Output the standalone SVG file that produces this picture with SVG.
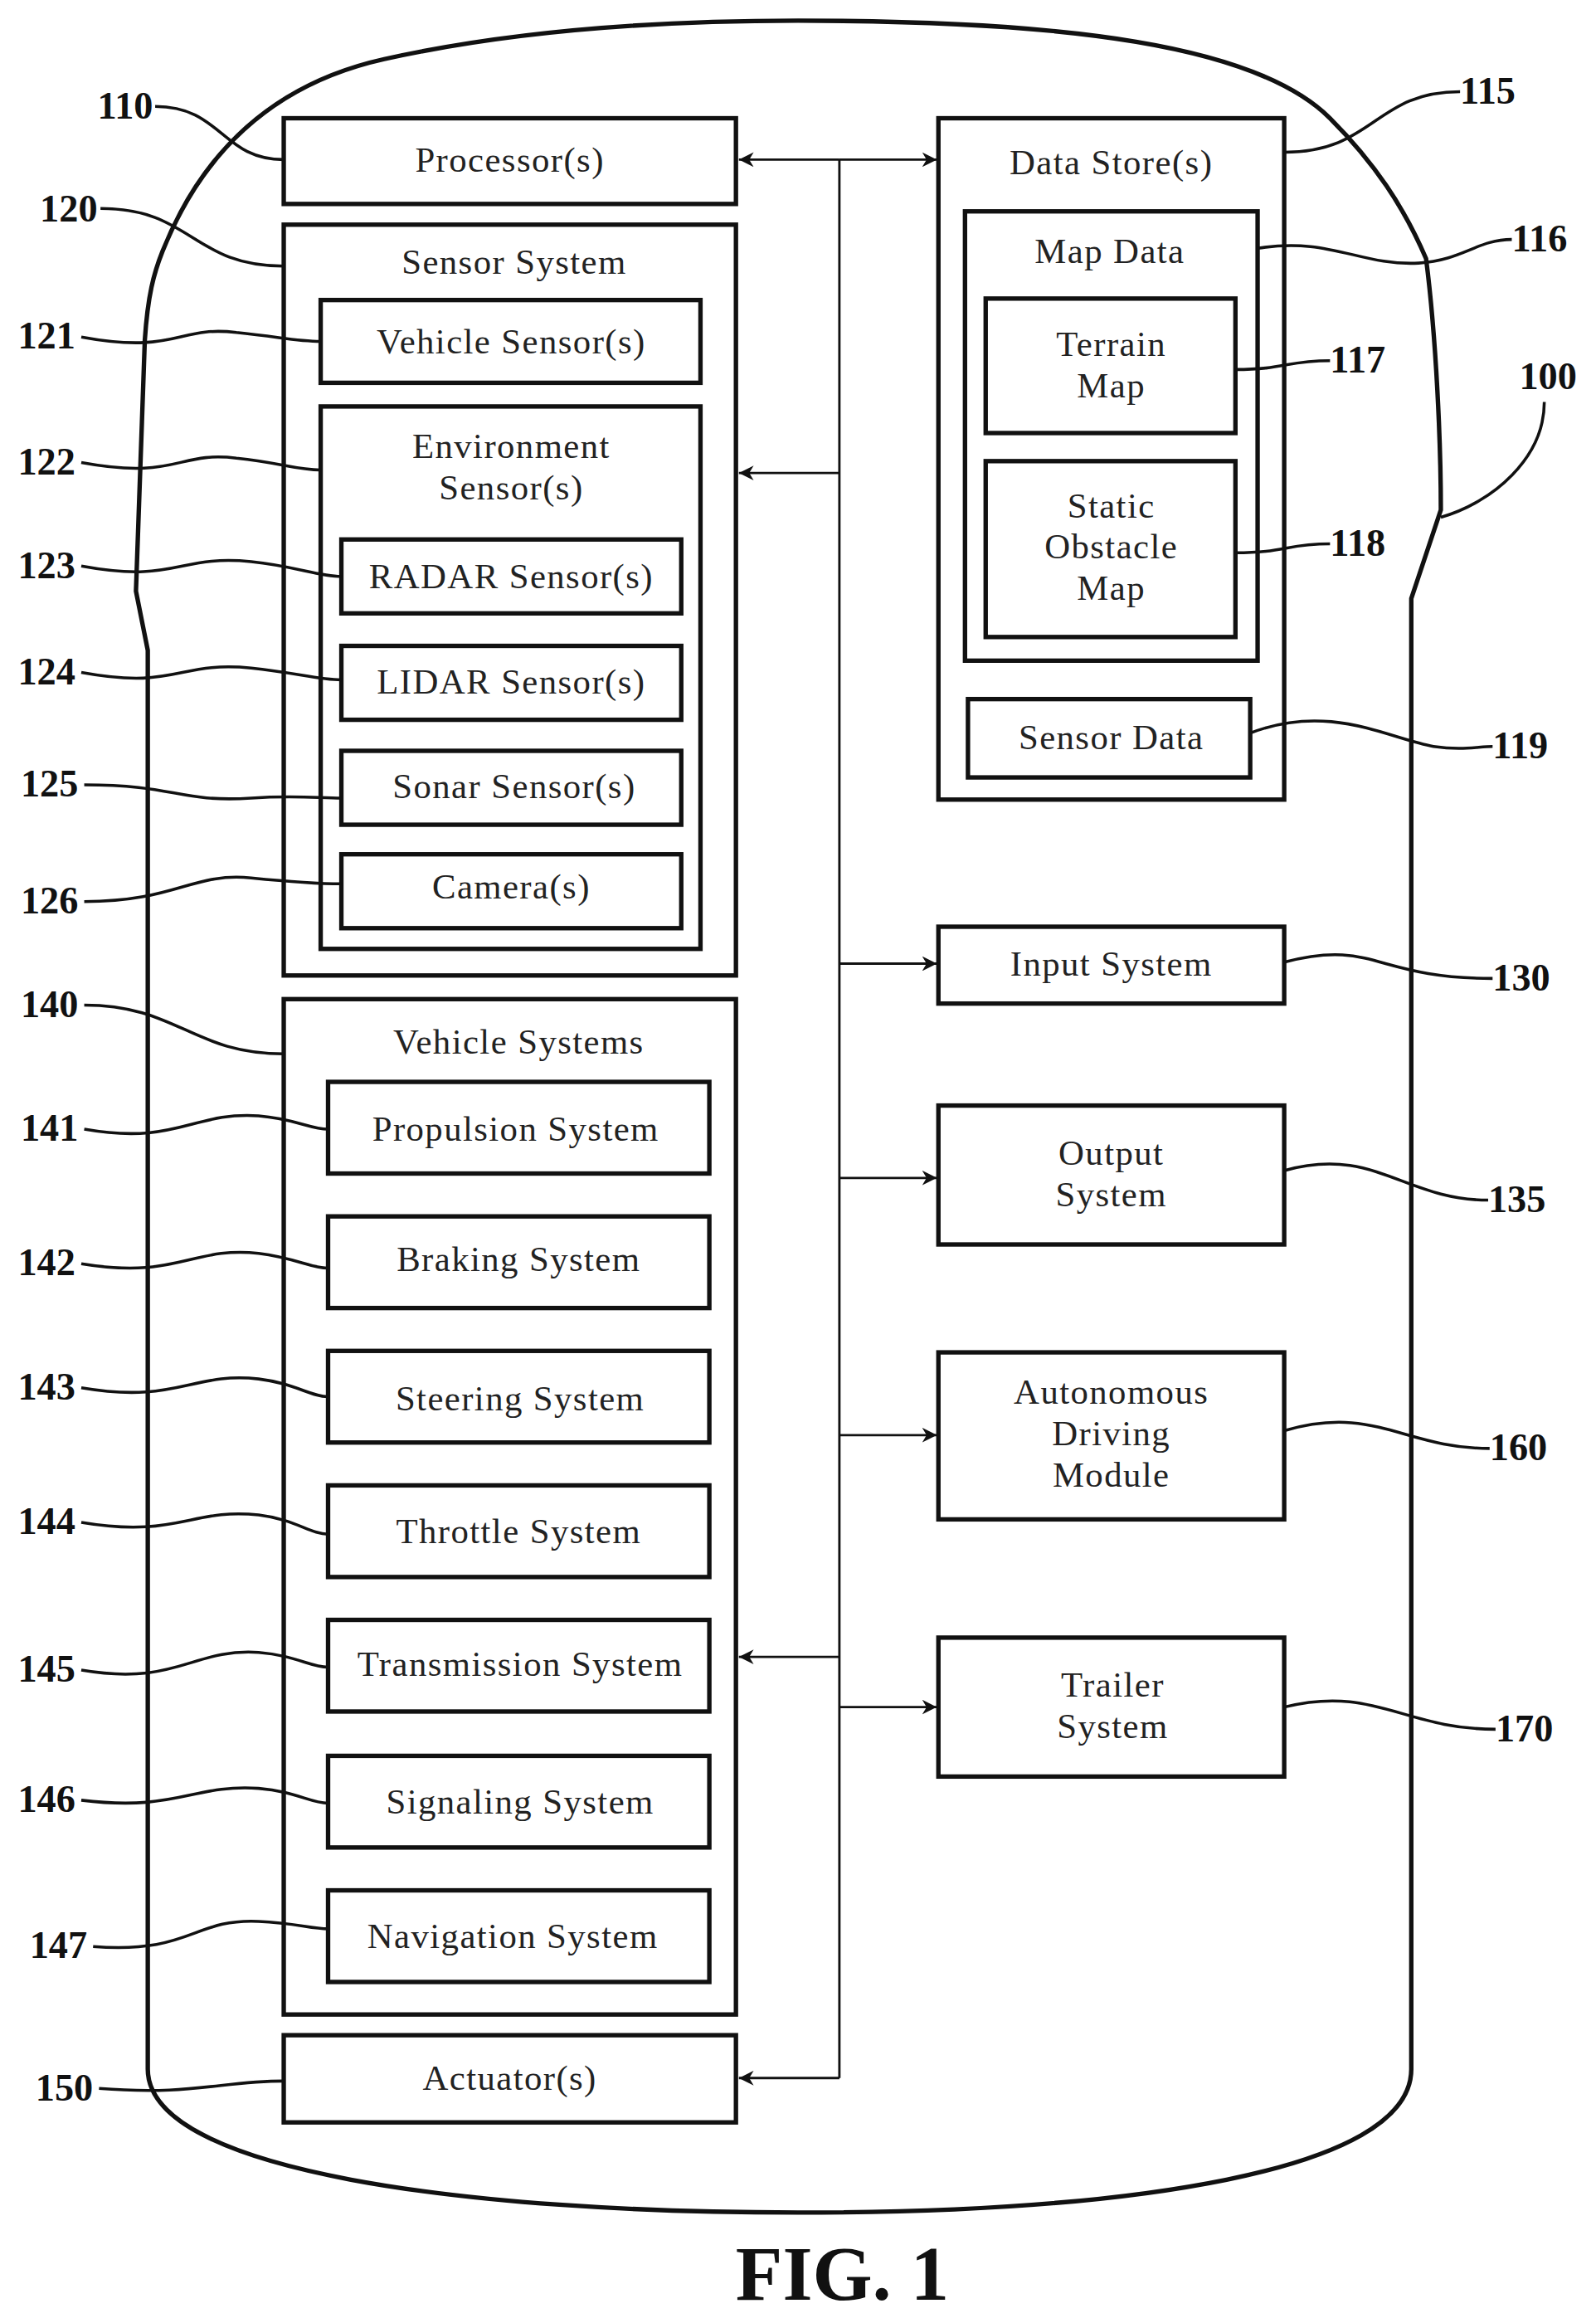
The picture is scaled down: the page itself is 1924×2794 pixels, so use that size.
<svg xmlns="http://www.w3.org/2000/svg" width="1924" height="2794" viewBox="0 0 1924 2794">
<style>
.b{fill:#fff;stroke:#111;stroke-width:3}
.t{font-family:'Liberation Serif','Times New Roman',serif;font-size:24px;letter-spacing:0.8px;text-anchor:middle;fill:#222}
.n{font-family:'Liberation Serif','Times New Roman',serif;font-size:26px;font-weight:bold;fill:#111}
.l{fill:none;stroke:#111;stroke-width:2}
.c{fill:none;stroke:#111;stroke-width:1.6}
</style>
<defs>
<marker id="a" viewBox="0 0 10 10" refX="10" refY="5" markerWidth="10" markerHeight="10" markerUnits="userSpaceOnUse" orient="auto"><path d="M0,0 L10,5 L0,10 L3,5 Z" fill="#111"/></marker>
</defs>
<rect width="1924" height="2794" fill="#fff"/>
<g transform="scale(1.7815)" font-family="'Liberation Serif','Times New Roman',serif">
<path id="outline" d="M540,14 C720,14 850,30 900,80 C930,110 950,140 965,175 C972,230 975,300 975,345 L955,405 L955,1400 C955,1470 760,1497 540,1497 C320,1497 100,1470 100,1400 L100,440 L92,400 L98,230 C100,200 104,185 110,170 C130,120 170,60 260,40 C350,20 450,14 540,14 Z" fill="none" stroke="#111" stroke-width="3"/>
<g id="connectors">
<path class="c" d="M568,108 V1406"/>
<path class="c" d="M568,108 H500" marker-end="url(#a)"/>
<path class="c" d="M568,108 H634" marker-end="url(#a)"/>
<path class="c" d="M568,320 H500" marker-end="url(#a)"/>
<path class="c" d="M568,652 H634" marker-end="url(#a)"/>
<path class="c" d="M568,797 H634" marker-end="url(#a)"/>
<path class="c" d="M568,971 H634" marker-end="url(#a)"/>
<path class="c" d="M568,1121 H500" marker-end="url(#a)"/>
<path class="c" d="M568,1155 H634" marker-end="url(#a)"/>
<path class="c" d="M568,1406 H500" marker-end="url(#a)"/>
</g>
<g id="n110"><rect class="b" x="192" y="80" width="306" height="58"/><text class="t" x="345" y="116">Processor(s)</text></g>
<g id="n120"><rect class="b" x="192" y="152" width="306" height="508"/><text class="t" x="348" y="185">Sensor System</text></g>
<g id="n121"><rect class="b" x="217" y="203" width="257" height="56"/><text class="t" x="346" y="239">Vehicle Sensor(s)</text></g>
<g id="n122"><rect class="b" x="217" y="275" width="257" height="367"/><text class="t" x="346" y="310">Environment</text><text class="t" x="346" y="338">Sensor(s)</text></g>
<g id="n123"><rect class="b" x="231" y="365" width="230" height="50"/><text class="t" x="346" y="398">RADAR Sensor(s)</text></g>
<g id="n124"><rect class="b" x="231" y="437" width="230" height="50"/><text class="t" x="346" y="469">LIDAR Sensor(s)</text></g>
<g id="n125"><rect class="b" x="231" y="508" width="230" height="50"/><text class="t" x="348" y="540">Sonar Sensor(s)</text></g>
<g id="n126"><rect class="b" x="231" y="578" width="230" height="50"/><text class="t" x="346" y="608">Camera(s)</text></g>
<g id="n140"><rect class="b" x="192" y="676" width="306" height="687"/><text class="t" x="351" y="713">Vehicle Systems</text></g>
<g id="n141"><rect class="b" x="222" y="732" width="258" height="62"/><text class="t" x="349" y="772">Propulsion System</text></g>
<g id="n142"><rect class="b" x="222" y="823" width="258" height="62"/><text class="t" x="351" y="860">Braking System</text></g>
<g id="n143"><rect class="b" x="222" y="914" width="258" height="62"/><text class="t" x="352" y="954">Steering System</text></g>
<g id="n144"><rect class="b" x="222" y="1005" width="258" height="62"/><text class="t" x="351" y="1044">Throttle System</text></g>
<g id="n145"><rect class="b" x="222" y="1096" width="258" height="62"/><text class="t" x="352" y="1134">Transmission System</text></g>
<g id="n146"><rect class="b" x="222" y="1188" width="258" height="62"/><text class="t" x="352" y="1227">Signaling System</text></g>
<g id="n147"><rect class="b" x="222" y="1279" width="258" height="62"/><text class="t" x="347" y="1318">Navigation System</text></g>
<g id="n150"><rect class="b" x="192" y="1377" width="306" height="59"/><text class="t" x="345" y="1414">Actuator(s)</text></g>
<g id="n115"><rect class="b" x="635" y="80" width="234" height="461"/><text class="t" x="752" y="118">Data Store(s)</text></g>
<g id="n116"><rect class="b" x="653" y="143" width="198" height="304"/><text class="t" x="751" y="178">Map Data</text></g>
<g id="n117"><rect class="b" x="667" y="202" width="169" height="91"/><text class="t" x="752" y="241">Terrain</text><text class="t" x="752" y="269">Map</text></g>
<g id="n118"><rect class="b" x="667" y="312" width="169" height="119"/><text class="t" x="752" y="350">Static</text><text class="t" x="752" y="378">Obstacle</text><text class="t" x="752" y="406">Map</text></g>
<g id="n119"><rect class="b" x="655" y="473" width="191" height="53"/><text class="t" x="752" y="507">Sensor Data</text></g>
<g id="n130"><rect class="b" x="635" y="627" width="234" height="52"/><text class="t" x="752" y="660">Input System</text></g>
<g id="n135"><rect class="b" x="635" y="748" width="234" height="94"/><text class="t" x="752" y="788">Output</text><text class="t" x="752" y="816">System</text></g>
<g id="n160"><rect class="b" x="635" y="915" width="234" height="113"/><text class="t" x="752" y="950">Autonomous</text><text class="t" x="752" y="978">Driving</text><text class="t" x="752" y="1006">Module</text></g>
<g id="n170"><rect class="b" x="635" y="1108" width="234" height="94"/><text class="t" x="753" y="1148">Trailer</text><text class="t" x="753" y="1176">System</text></g>
<g id="labels">
<text class="n" x="66" y="80">110</text><path class="l" d="M105,72 C150,72 150,108 192,108"/>
<text class="n" x="27" y="150">120</text><path class="l" d="M68,141 C130,141 130,180 192,180"/>
<text class="n" x="12" y="236">121</text><path class="l" d="M55,228 C120,240 120,220 160,225 C190,228 200,231 217,231"/>
<text class="n" x="12" y="321">122</text><path class="l" d="M55,313 C120,325 120,305 160,310 C190,313 200,318 217,318"/>
<text class="n" x="12" y="391">123</text><path class="l" d="M55,383 C120,395 120,375 170,380 C200,383 215,390 231,390"/>
<text class="n" x="12" y="463">124</text><path class="l" d="M55,455 C120,467 120,447 170,452 C200,455 215,460 231,460"/>
<text class="n" x="14" y="539">125</text><path class="l" d="M57,531 C120,531 120,543 170,540 C200,538 215,540 231,540"/>
<text class="n" x="14" y="618">126</text><path class="l" d="M57,610 C120,610 130,590 170,594 C200,597 215,598 231,598"/>
<text class="n" x="14" y="688">140</text><path class="l" d="M57,680 C120,680 130,713 192,713"/>
<text class="n" x="14" y="772">141</text><path class="l" d="M57,764 C120,775 130,752 175,755 C200,757 210,764 222,764"/>
<text class="n" x="12" y="863">142</text><path class="l" d="M55,855 C120,866 130,843 175,848 C200,851 210,858 222,858"/>
<text class="n" x="12" y="947">143</text><path class="l" d="M55,939 C120,950 130,928 175,933 C200,936 210,945 222,945"/>
<text class="n" x="12" y="1038">144</text><path class="l" d="M55,1030 C120,1041 130,1020 175,1025 C200,1028 210,1038 222,1038"/>
<text class="n" x="12" y="1138">145</text><path class="l" d="M55,1130 C120,1141 130,1115 175,1118 C200,1120 210,1128 222,1128"/>
<text class="n" x="12" y="1226">146</text><path class="l" d="M55,1218 C120,1226 130,1207 175,1210 C200,1212 210,1220 222,1220"/>
<text class="n" x="20" y="1325">147</text><path class="l" d="M63,1317 C130,1322 130,1298 175,1300 C200,1301 210,1305 222,1305"/>
<text class="n" x="24" y="1421">150</text><path class="l" d="M67,1413 C130,1418 150,1408 192,1408"/>
<text class="n" x="988" y="70">115</text><path class="l" d="M869,103 C930,103 930,62 988,62"/>
<text class="n" x="1023" y="170">116</text><path class="l" d="M851,168 C900,160 920,180 960,178 C990,176 1000,162 1023,162"/>
<text class="n" x="900" y="252">117</text><path class="l" d="M836,250 C870,250 870,244 900,244"/>
<text class="n" x="900" y="376">118</text><path class="l" d="M836,374 C870,374 870,368 900,368"/>
<text class="n" x="1010" y="513">119</text><path class="l" d="M846,496 C900,475 940,500 970,505 C990,508 1000,505 1010,505"/>
<text class="n" x="1028" y="263">100</text><path class="l" d="M975,350 C1010,340 1045,310 1045,272"/>
<text class="n" x="1010" y="670">130</text><path class="l" d="M869,651 C930,635 930,662 1010,662"/>
<text class="n" x="1007" y="820">135</text><path class="l" d="M869,792 C930,775 950,812 1007,812"/>
<text class="n" x="1008" y="988">160</text><path class="l" d="M869,968 C930,950 950,980 1008,980"/>
<text class="n" x="1012" y="1178">170</text><path class="l" d="M869,1155 C930,1140 950,1170 1012,1170"/>
</g>
<text x="570" y="1556" font-size="52" font-weight="bold" text-anchor="middle" fill="#111">FIG. 1</text>
</g>
</svg>
